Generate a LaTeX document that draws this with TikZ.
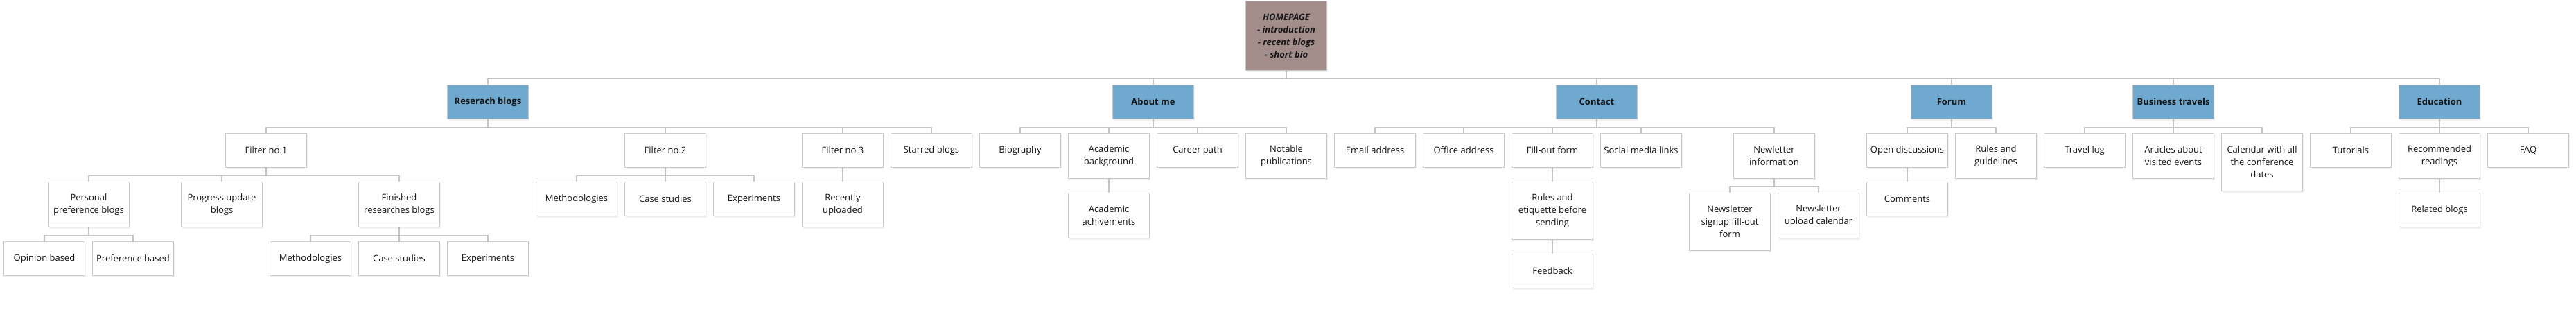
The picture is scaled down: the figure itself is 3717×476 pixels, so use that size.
\documentclass[tikz,border=0pt]{standalone}
\usepackage{fontspec}
\setmainfont{Open Sans}
\usetikzlibrary{shadows,backgrounds}

\definecolor{catblue}{HTML}{6FA9CF}
\definecolor{homegray}{HTML}{A28D8B}
\definecolor{boxline}{HTML}{C9C9C9}
\definecolor{linkline}{HTML}{C4C4C4}
\definecolor{ink}{HTML}{151515}

% parent to child: short drop, along the bus, down into the child
\newcommand\conn[2]{\draw[link] (#1.south) -- ++(0,11) -| (#2.north);}

\begin{document}
\begin{tikzpicture}[x=1pt, y=-1pt,
    box/.style={draw=boxline, line width=1.1pt, fill=white, anchor=north,
      minimum width=117pt, minimum height=49pt, inner sep=2pt, align=center,
      text=ink, font=\fontsize{13}{18}\selectfont,
      drop shadow={shadow xshift=1.5pt, shadow yshift=-2.5pt, opacity=0.12}},
    cat/.style={box, fill=catblue, font=\fontsize{13}{18}\selectfont\bfseries},
    home/.style={box, fill=homegray, minimum height=100pt,
      font=\fontsize{13}{18}\selectfont\bfseries\itshape},
    lines2/.style={minimum height=65pt},
    lines3/.style={minimum height=83pt},
    link/.style={draw=linkline, line width=1.1pt}]
    \useasboundingbox (0,0) rectangle (3717,476);

    % homepage
    \node[home] (home) at (1856,1) {HOMEPAGE\\- introduction\\- recent blogs\\- short bio};

    % top level sections
    \node[cat] (res) at (704,122) {Reserach blogs};
    \node[cat] (about) at (1664,122) {About me};
    \node[cat] (contact) at (2304,122) {Contact};
    \node[cat] (forum) at (2816,122) {Forum};
    \node[cat] (travel) at (3136,122) {Business travels};
    \node[cat] (edu) at (3520,122) {Education};

    % research blogs
    \node[box] (f1) at (384,192) {Filter no.1};
    \node[box] (f2) at (960,192) {Filter no.2};
    \node[box] (f3) at (1216,192) {Filter no.3};
    \node[box] (starred) at (1344,192) {Starred blogs};
    \node[box, lines2] (personal) at (128,262) {Personal\\preference blogs};
    \node[box, lines2] (progress) at (320,262) {Progress update\\blogs};
    \node[box, lines2] (finished) at (576,262) {Finished\\researches blogs};
    \node[box] (opinion) at (64,348) {Opinion based};
    \node[box] (pref) at (192,348) {Preference based};
    \node[box] (methA) at (448,348) {Methodologies};
    \node[box] (caseA) at (576,348) {Case studies};
    \node[box] (expA) at (704,348) {Experiments};
    \node[box] (methB) at (832,262) {Methodologies};
    \node[box] (caseB) at (960,262) {Case studies};
    \node[box] (expB) at (1088,262) {Experiments};
    \node[box, lines2] (recent) at (1216,262) {Recently\\uploaded};

    % about me
    \node[box] (bio) at (1472,192) {Biography};
    \node[box, lines2] (acad) at (1600,192) {Academic\\background};
    \node[box] (career) at (1728,192) {Career path};
    \node[box, lines2] (notable) at (1856,192) {Notable\\publications};
    \node[box, lines2] (achiv) at (1600,278) {Academic\\achivements};

    % contact
    \node[box] (email) at (1984,192) {Email address};
    \node[box] (office) at (2112,192) {Office address};
    \node[box] (form) at (2240,192) {Fill-out form};
    \node[box] (social) at (2368,192) {Social media links};
    \node[box, lines2] (news) at (2560,192) {Newletter\\information};
    \node[box, lines3] (etiq) at (2240,262) {Rules and\\etiquette before\\sending};
    \node[box] (feedback) at (2240,366) {Feedback};
    \node[box, lines3] (signup) at (2496,278) {Newsletter\\signup fill-out\\form};
    \node[box, lines2] (upload) at (2624,278) {Newsletter\\upload calendar};

    % forum
    \node[box] (open) at (2752,192) {Open discussions};
    \node[box, lines2] (rules) at (2880,192) {Rules and\\guidelines};
    \node[box] (comments) at (2752,262) {Comments};

    % business travels
    \node[box] (tlog) at (3008,192) {Travel log};
    \node[box, lines2] (articles) at (3136,192) {Articles about\\visited events};
    \node[box, lines3] (calendar) at (3264,192) {Calendar with all\\the conference\\dates};

    % education
    \node[box] (tut) at (3392,192) {Tutorials};
    \node[box, lines2] (recread) at (3520,192) {Recommended\\readings};
    \node[box] (faq) at (3648,192) {FAQ};
    \node[box] (related) at (3520,278) {Related blogs};

    % links, behind the boxes
    \begin{scope}[on background layer]
    \conn{home}{res} \conn{home}{about} \conn{home}{contact}
    \conn{home}{forum} \conn{home}{travel} \conn{home}{edu}

    \conn{res}{f1} \conn{res}{f2} \conn{res}{f3} \conn{res}{starred}
    \conn{f1}{personal} \conn{f1}{progress} \conn{f1}{finished}
    \conn{personal}{opinion} \conn{personal}{pref}
    \conn{finished}{methA} \conn{finished}{caseA} \conn{finished}{expA}
    \conn{f2}{methB} \conn{f2}{caseB} \conn{f2}{expB}
    \conn{f3}{recent}

    \conn{about}{bio} \conn{about}{acad} \conn{about}{career} \conn{about}{notable}
    \conn{acad}{achiv}

    \conn{contact}{email} \conn{contact}{office} \conn{contact}{form}
    \conn{contact}{social} \conn{contact}{news}
    \conn{form}{etiq} \conn{etiq}{feedback}
    \conn{news}{signup} \conn{news}{upload}

    \conn{forum}{open} \conn{forum}{rules}
    \conn{open}{comments}

    \conn{travel}{tlog} \conn{travel}{articles} \conn{travel}{calendar}

    \conn{edu}{tut} \conn{edu}{recread} \conn{edu}{faq}
    \conn{recread}{related}
    \end{scope}
\end{tikzpicture}
\end{document}
